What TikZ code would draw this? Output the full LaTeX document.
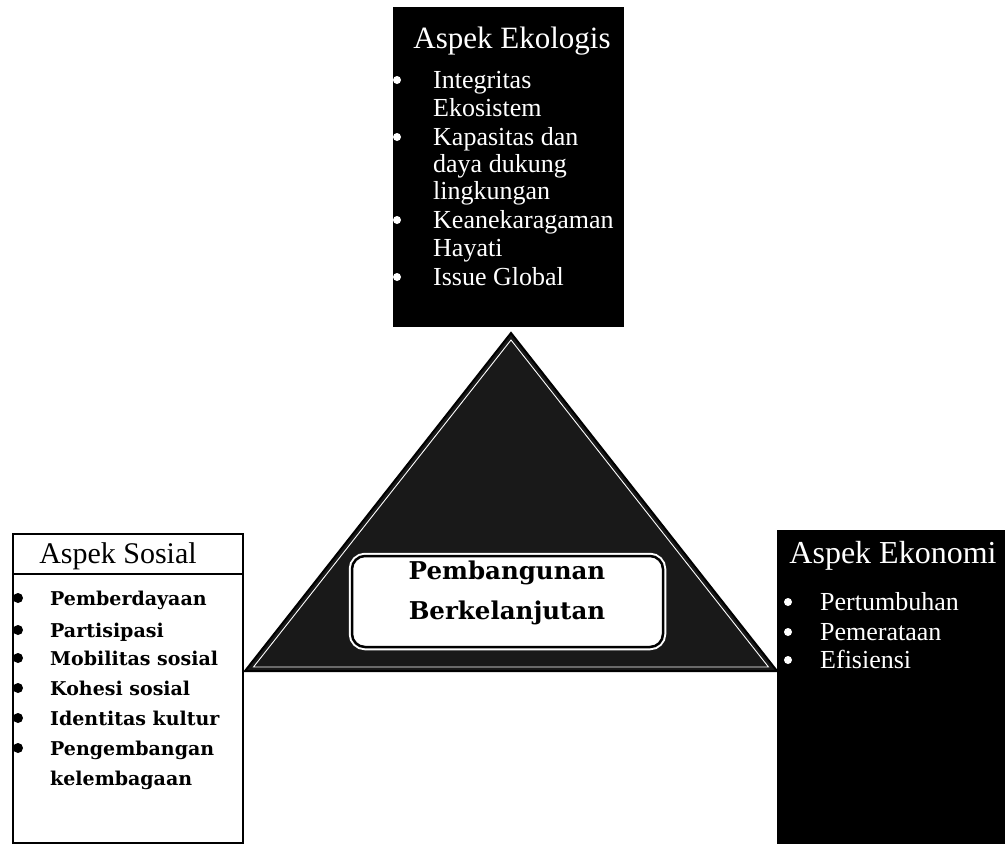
\documentclass[tikz,border=0pt]{standalone}
\usepackage{fontspec}
\setmainfont{Liberation Serif}
\newfontfamily\schfont{DejaVu Serif}
\begin{document}
\begin{tikzpicture}[x=1pt,y=-1pt,
  itemw/.style={text=white, anchor=base west, inner sep=0pt, font=\fontsize{26}{28}\selectfont},
  headw/.style={text=white, anchor=base, inner sep=0pt, font=\fontsize{32}{32}\selectfont},
  bulw/.style={circle, fill=white, inner sep=0pt, minimum size=8pt},
  bulk/.style={circle, fill=black, inner sep=0pt, minimum size=10pt},
  itemk/.style={text=black, anchor=base west, inner sep=0pt, font=\schfont\bfseries\fontsize{19}{21}\selectfont},
  blackbox/.style={fill=black, draw=none, anchor=north west, inner sep=0pt},
  centertext/.style={anchor=base, inner sep=0pt, font=\schfont\bfseries\fontsize{24.5}{28}\selectfont}
]
\useasboundingbox[fill=white] (0,0) rectangle (1005,844);

% triangle
\coordinate (tA) at (511,333);
\coordinate (tL) at (245,671);
\coordinate (tR) at (777,671);
\fill[black!90, draw=black, line width=2pt, line join=miter] (tA) -- (tL) -- (tR) -- cycle;
\coordinate (iA) at (511,340);
\coordinate (iL) at (253.5,667);
\coordinate (iR) at (768.5,667);
\draw[white, line width=0.9pt] (iA) -- (iL) -- (iR) -- cycle;

% centre box
\node[draw=black, line width=2.5pt, fill=white, rounded corners=13pt,
      preaction={draw=white, line width=6.5pt},
      minimum width=311pt, minimum height=91pt, inner sep=0pt] (pb) at (507.5,601.5) {};
\node[centertext] (pb1) at (507,579) {Pembangunan};
\node[centertext] (pb2) at (507,619) {Berkelanjutan};

% Aspek Ekologis
\node[blackbox, minimum width=231pt, minimum height=320pt] (eko) at (393,7) {};
\node[headw, font=\fontsize{31}{31}\selectfont] (ekoh) at (512,48) {Aspek Ekologis};
\node[bulw] (eb1) at (397,80) {};
\node[itemw] (e1a) at (433,88) {Integritas};
\node[itemw] (e1b) at (433,116) {Ekosistem};
\node[bulw] (eb2) at (397,137) {};
\node[itemw] (e2a) at (433,145) {Kapasitas dan};
\node[itemw] (e2b) at (433,172) {daya dukung};
\node[itemw] (e2c) at (433,199) {lingkungan};
\node[bulw] (eb3) at (397,220) {};
\node[itemw] (e3a) at (433,228) {Keanekaragaman};
\node[itemw] (e3b) at (433,256) {Hayati};
\node[bulw] (eb4) at (397,277) {};
\node[itemw] (e4a) at (433,285) {Issue Global};

% Aspek Sosial
\node[draw=black, line width=1.6pt, fill=white, anchor=north west, inner sep=0pt,
      minimum width=230pt, minimum height=309pt] (sos) at (12,533) {};
\coordinate (sepL) at (12,574);
\coordinate (sepR) at (242,574);
\draw[line width=1.4pt] (sepL) -- (sepR);
\node[anchor=base, inner sep=0pt, font=\fontsize{30}{30}\selectfont] (sosh) at (118,563) {Aspek Sosial};
\node[bulk] (sb1) at (18,598) {};
\node[itemk] (s1) at (50,605) {Pemberdayaan};
\node[bulk] (sb2) at (18,630) {};
\node[itemk] (s2) at (50,637) {Partisipasi};
\node[bulk] (sb3) at (18,658) {};
\node[itemk] (s3) at (50,665) {Mobilitas sosial};
\node[bulk] (sb4) at (18,688) {};
\node[itemk] (s4) at (50,695) {Kohesi sosial};
\node[bulk] (sb5) at (18,718) {};
\node[itemk] (s5) at (50,725) {Identitas kultur};
\node[bulk] (sb6) at (18,748) {};
\node[itemk] (s6a) at (50,755) {Pengembangan};
\node[itemk] (s6b) at (50,785) {kelembagaan};

% Aspek Ekonomi
\node[blackbox, minimum width=228pt, minimum height=314pt] (eco) at (777,530) {};
\node[headw] (ecoh) at (893,563) {Aspek Ekonomi};
\node[bulw] (cb1) at (788,602) {};
\node[itemw] (c1) at (820,610) {Pertumbuhan};
\node[bulw] (cb2) at (788,632) {};
\node[itemw] (c2) at (820,640) {Pemerataan};
\node[bulw] (cb3) at (788,660) {};
\node[itemw] (c3) at (820,668) {Efisiensi};
\end{tikzpicture}
\end{document}
